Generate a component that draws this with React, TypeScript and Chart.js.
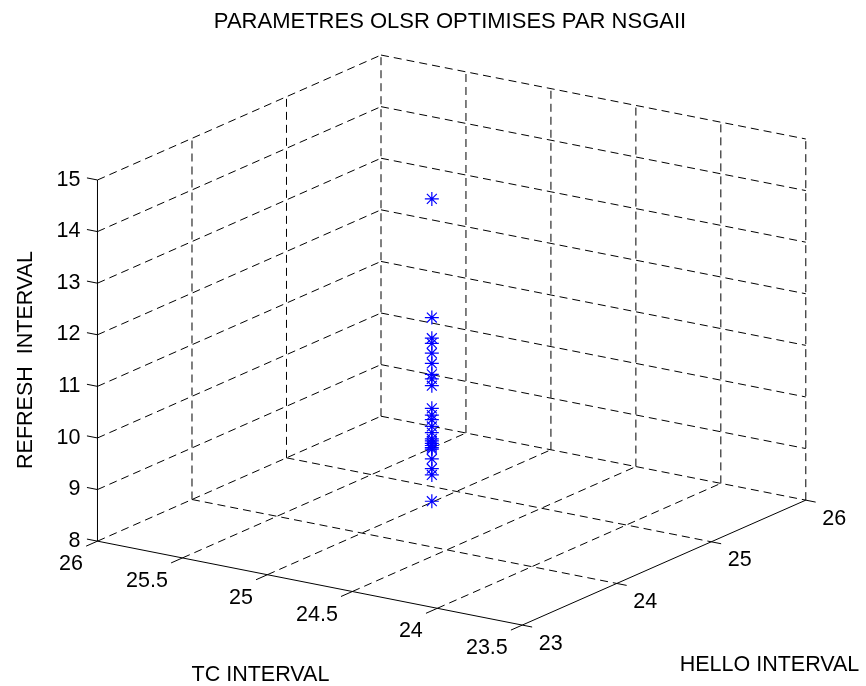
import React, { useEffect, useRef } from 'react';
import { Chart, registerables } from 'chart.js';

Chart.register(...registerables);

// ---------- Texts ----------
const TITLE = 'PARAMETRES OLSR OPTIMISES PAR NSGAII';
const TC_LABEL = 'TC INTERVAL';
const HELLO_LABEL = 'HELLO INTERVAL';
const REFRESH_LABEL = 'REFRESH  INTERVAL';

// ---------- Axis limits & ticks ----------
const TC_LIMITS = [23.5, 26];
const HELLO_LIMITS = [23, 26];
const REFRESH_LIMITS = [8, 15];
const TC_TICKS = [26, 25.5, 25, 24.5, 24, 23.5];
const HELLO_TICKS = [23, 24, 25, 26];
const REFRESH_TICKS = [8, 9, 10, 11, 12, 13, 14, 15];

// ---------- Data (NSGA-II optimised OLSR parameters) ----------
const tcInterval = [
  25, 25, 25, 25, 25, 25, 25, 25, 25, 25, 25, 25,
  25, 25, 25, 25, 25, 25, 25, 25, 25, 25, 25, 25,
];
const helloInterval = [
  24.74, 24.74, 24.74, 24.74, 24.74, 24.74, 24.74, 24.74, 24.74, 24.74, 24.74, 24.74,
  24.74, 24.74, 24.74, 24.74, 24.74, 24.74, 24.74, 24.74, 24.74, 24.74, 24.74, 24.74,
];
const refreshInterval = [
  13.88, 11.58, 11.18, 11.08, 10.89, 10.69, 10.48, 10.39, 10.26, 9.82, 9.69, 9.6,
  9.47, 9.35, 9.23, 9.19, 9.14, 9.1, 9.06, 9.03, 8.84, 8.65, 8.53, 8.02,
];

// ---------- View (orthographic 3-D box projected onto the page) ----------
const VIEW = {
  origin: [91, 546], // corner TC=max, HELLO=min, REFRESH=min
  tcSpan: [433, 86], // screen offset along the full TC range (max -> min)
  helloSpan: [289, -128], // screen offset along the full HELLO range
  zSpan: [0, -370], // screen offset along the full REFRESH range
};

const FONT = '"Liberation Sans", Arial, Helvetica, sans-serif';
const DASH = [8, 5];

type P3 = [number, number, number];

function project(tc: number, h: number, z: number) {
  const ft = (TC_LIMITS[1] - tc) / (TC_LIMITS[1] - TC_LIMITS[0]);
  const fh = (h - HELLO_LIMITS[0]) / (HELLO_LIMITS[1] - HELLO_LIMITS[0]);
  const fz = (z - REFRESH_LIMITS[0]) / (REFRESH_LIMITS[1] - REFRESH_LIMITS[0]);
  return {
    x: VIEW.origin[0] + ft * VIEW.tcSpan[0] + fh * VIEW.helloSpan[0] + fz * VIEW.zSpan[0],
    y: VIEW.origin[1] + ft * VIEW.tcSpan[1] + fh * VIEW.helloSpan[1] + fz * VIEW.zSpan[1],
  };
}

function buildSegments() {
  const [tMin, tMax] = TC_LIMITS;
  const [hMin, hMax] = HELLO_LIMITS;
  const [zMin, zMax] = REFRESH_LIMITS;
  const dashed: [P3, P3][] = [];
  const solid: [P3, P3][] = [];

  // floor
  TC_TICKS.filter((t) => t !== tMin).forEach((t) => dashed.push([[t, hMin, zMin], [t, hMax, zMin]]));
  HELLO_TICKS.filter((h) => h !== hMin).forEach((h) => dashed.push([[tMax, h, zMin], [tMin, h, zMin]]));
  // left wall (TC = max)
  REFRESH_TICKS.filter((z) => z !== zMin).forEach((z) => dashed.push([[tMax, hMin, z], [tMax, hMax, z]]));
  HELLO_TICKS.filter((h) => h !== hMin).forEach((h) => dashed.push([[tMax, h, zMin], [tMax, h, zMax]]));
  // right wall (HELLO = max)
  REFRESH_TICKS.filter((z) => z !== zMin).forEach((z) => dashed.push([[tMax, hMax, z], [tMin, hMax, z]]));
  TC_TICKS.filter((t) => t !== tMax).forEach((t) => dashed.push([[t, hMax, zMin], [t, hMax, zMax]]));

  // axes
  solid.push([[tMax, hMin, zMin], [tMin, hMin, zMin]]);
  solid.push([[tMin, hMin, zMin], [tMin, hMax, zMin]]);
  solid.push([[tMax, hMin, zMin], [tMax, hMin, zMax]]);

  // ticks
  const tcTick = 0.12 * (hMax - hMin) / 3;
  const helloTick = 0.058 * (tMax - tMin) / 2.5;
  const zTick = 0.062 * (tMax - tMin) / 2.5;
  TC_TICKS.forEach((t) => solid.push([[t, hMin, zMin], [t, hMin - tcTick, zMin]]));
  HELLO_TICKS.forEach((h) => solid.push([[tMin, h, zMin], [tMin - helloTick, h, zMin]]));
  REFRESH_TICKS.forEach((z) => solid.push([[tMax, hMin, z], [tMax + zTick, hMin, z]]));

  return { dashed, solid };
}

const labelsPlugin = {
  id: 'labels3d',
  afterDraw(chart: any) {
    const ctx = chart.ctx as CanvasRenderingContext2D;
    const xs = chart.scales.x;
    const ys = chart.scales.y;
    const px = (p: { x: number; y: number }) => ({ x: xs.getPixelForValue(p.x), y: ys.getPixelForValue(p.y) });
    const [tMin, tMax] = TC_LIMITS;
    const [hMin] = HELLO_LIMITS;
    const [zMin] = REFRESH_LIMITS;
    ctx.save();
    ctx.fillStyle = '#000';
    ctx.font = `21.5px ${FONT}`;
    ctx.textBaseline = 'alphabetic';

    ctx.textAlign = 'right';
    REFRESH_TICKS.forEach((z) => {
      const p = px(project(tMax, hMin, z));
      ctx.fillText(String(z), p.x - 17, p.y + 5.7);
    });
    TC_TICKS.forEach((t) => {
      const p = px(project(t, hMin, zMin));
      ctx.fillText(String(t), p.x - 14.5, p.y + 29);
    });
    ctx.textAlign = 'left';
    HELLO_TICKS.forEach((h) => {
      const p = px(project(tMin, h, zMin));
      ctx.fillText(String(h), p.x + 16.5, p.y + 24.7);
    });

    // axis labels
    ctx.textAlign = 'center';
    ctx.fillText(TC_LABEL, 260.5, 681);
    ctx.fillText(HELLO_LABEL, 769.5, 671);
    ctx.save();
    ctx.translate(32.3, 360);
    ctx.rotate(-Math.PI / 2);
    ctx.fillText(REFRESH_LABEL, 0, 0);
    ctx.restore();

    ctx.font = `22px ${FONT}`;
    ctx.fillText(TITLE, 450, 27.5);
    ctx.restore();
  },
};

export default function App() {
  const canvasRef = useRef<HTMLCanvasElement | null>(null);

  useEffect(() => {
    if (!canvasRef.current) return;
    const { dashed, solid } = buildSegments();
    const lineDs = (seg: [P3, P3], dash: number[]) => ({
      data: [project(...seg[0]), project(...seg[1])],
      showLine: true,
      borderColor: '#000000',
      borderWidth: 1,
      borderDash: dash,
      pointRadius: 0,
      pointHoverRadius: 0,
      fill: false,
      clip: false as any,
    });
    const points = tcInterval.map((t, i) => project(t, helloInterval[i], refreshInterval[i]));

    const chart = new Chart(canvasRef.current, {
      type: 'scatter',
      data: {
        datasets: [
          {
            data: points,
            pointStyle: 'star',
            pointRadius: 7,
            pointHoverRadius: 7,
            pointBorderColor: '#0000ff',
            pointBackgroundColor: '#0000ff',
            pointBorderWidth: 1.2,
            showLine: false,
            clip: false as any,
          } as any,
          ...solid.map((s) => lineDs(s, [])),
          ...dashed.map((s) => lineDs(s, DASH)),
        ],
      },
      options: {
        animation: false,
        responsive: false,
        devicePixelRatio: 1,
        events: [],
        layout: { padding: 0 },
        plugins: {
          legend: { display: false },
          tooltip: { enabled: false },
          title: { display: false },
        },
        scales: {
          x: { type: 'linear', min: 0, max: 866, display: false },
          y: { type: 'linear', min: 0, max: 686, reverse: true, display: false },
        },
      },
      plugins: [labelsPlugin],
    });
    return () => chart.destroy();
  }, []);

  return (
    <div style={{ position: 'fixed', left: 0, top: 0, width: 866, height: 686, background: '#fff' }}>
      <canvas ref={canvasRef} width={866} height={686} style={{ display: 'block' }} />
    </div>
  );
}
